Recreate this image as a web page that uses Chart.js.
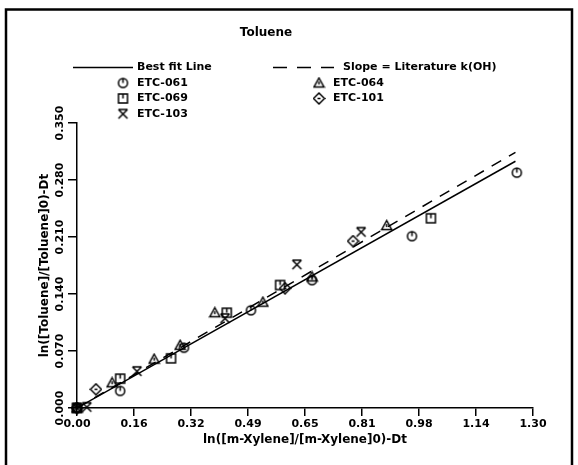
<!DOCTYPE html>
<html>
<head>
<meta charset="utf-8">
<script src="https://cdn.jsdelivr.net/npm/chart.js@4/dist/chart.umd.min.js"></script>
<style>
  html, body { margin: 0; padding: 0; background: #fff; }
  #wrap { width: 578px; height: 465px; }
</style>
</head>
<body>
<div id="wrap"><canvas id="chart"></canvas></div>
<script>
const FONT = '"DejaVu Sans", sans-serif';

// Data
const chartTitle = 'Toluene';
const xTitle = 'ln([m-Xylene]/[m-Xylene]0)-Dt';
const yTitle = 'ln([Toluene]/[Toluene]0)-Dt';

const xTickLabels = ['0.00', '0.16', '0.32', '0.49', '0.65', '0.81', '0.98', '1.14', '1.30'];
const yTickLabels = ['0.000', '0.070', '0.140', '0.210', '0.280', '0.350'];
const xMax = 1.3;
const yMax = 0.35;

const lineNames = ['Best fit Line', 'Slope = Literature k(OH)'];
const seriesNames = ['ETC-061', 'ETC-064', 'ETC-069', 'ETC-101', 'ETC-103'];

const fitX = [0, 1.25];
const fitY = [0, 0.303];
const litY = [0, 0.314];

const etc061X = [0, 0.123, 0.305, 0.496, 0.670, 0.955, 1.254];
const etc061Y = [0, 0.021, 0.074, 0.120, 0.157, 0.211, 0.289];
const etc064X = [0, 0.100, 0.220, 0.294, 0.393, 0.530, 0.670, 0.883];
const etc064Y = [0, 0.031, 0.060, 0.077, 0.117, 0.130, 0.161, 0.224];
const etc069X = [0, 0.123, 0.268, 0.427, 0.579, 1.009];
const etc069Y = [0, 0.036, 0.061, 0.117, 0.151, 0.233];
const etc101X = [0, 0.054, 0.593, 0.787];
const etc101Y = [0, 0.023, 0.147, 0.205];
const etc103X = [0, 0.028, 0.171, 0.422, 0.627, 0.810];
const etc103Y = [0, 0.001, 0.045, 0.110, 0.176, 0.216];

function toPoints(xs, ys) {
  return xs.map((x, i) => ({ x: x, y: ys[i] }));
}

// plot symbols, drawn like the old plotter marks
function makeSymbol(kind) {
  const c = document.createElement('canvas');
  c.width = 13;
  c.height = 13;
  const g = c.getContext('2d');
  g.strokeStyle = '#000';
  g.lineWidth = 1.5;
  g.beginPath();
  if (kind === 'circle') {
    g.arc(6.5, 6.5, 4.5, 0, Math.PI * 2);
    g.moveTo(6.5, 2);
    g.lineTo(6.5, 6.5);
  } else if (kind === 'square') {
    g.rect(2, 2, 9, 9);
    g.moveTo(6.5, 2);
    g.lineTo(6.5, 6.5);
  } else if (kind === 'triangle') {
    g.moveTo(6.5, 1.5);
    g.lineTo(11.5, 10.5);
    g.lineTo(1.5, 10.5);
    g.closePath();
    g.moveTo(6.5, 5);
    g.lineTo(6.5, 8);
  } else if (kind === 'diamond') {
    g.moveTo(6.5, 1);
    g.lineTo(12, 6.5);
    g.lineTo(6.5, 12);
    g.lineTo(1, 6.5);
    g.closePath();
    g.moveTo(5, 6.5);
    g.lineTo(8, 6.5);
  } else if (kind === 'cross') {
    g.moveTo(2, 2);
    g.lineTo(11, 2);
    g.moveTo(2, 2);
    g.lineTo(11, 11);
    g.moveTo(11, 2);
    g.lineTo(2, 11);
  }
  g.stroke();
  return c;
}

const symbols = ['circle', 'triangle', 'square', 'diamond', 'cross'].map(makeSymbol);

function pointSet(label, xs, ys, sym) {
  return {
    label: label,
    data: toPoints(xs, ys),
    pointStyle: sym,
    pointRadius: 6,
    showLine: false,
    clip: false
  };
}

const frameAndText = {
  id: 'frameAndText',
  beforeDraw(chart) {
    const ctx = chart.ctx;
    ctx.save();
    ctx.fillStyle = '#fff';
    ctx.fillRect(0, 0, chart.width, chart.height);
    ctx.strokeStyle = '#000';
    ctx.lineWidth = 2.5;
    ctx.beginPath();
    ctx.moveTo(6, chart.height);
    ctx.lineTo(6, 9.5);
    ctx.lineTo(572, 9.5);
    ctx.lineTo(572, chart.height);
    ctx.stroke();
    ctx.restore();
  },
  afterDraw(chart) {
    const ctx = chart.ctx;
    ctx.save();
    ctx.fillStyle = '#000';
    ctx.strokeStyle = '#000';

    // title
    ctx.font = 'bold 12px ' + FONT;
    ctx.textAlign = 'center';
    ctx.textBaseline = 'middle';
    ctx.fillText(chartTitle, 266, 33);

    // y tick labels, written sideways
    ctx.font = 'bold 11px ' + FONT;
    const ys = chart.scales.y;
    ys.ticks.forEach((t, i) => {
      const py = ys.getPixelForValue(t.value);
      ctx.save();
      ctx.translate(60, py);
      ctx.rotate(-Math.PI / 2);
      ctx.fillText(yTickLabels[i], 0, 0);
      ctx.restore();
    });

    // legend
    ctx.textAlign = 'left';
    ctx.lineWidth = 1.5;
    ctx.beginPath();
    ctx.moveTo(73, 67.5);
    ctx.lineTo(133, 67.5);
    ctx.stroke();
    ctx.fillText(lineNames[0], 137, 67.5);
    ctx.setLineDash([14, 10]);
    ctx.beginPath();
    ctx.moveTo(273, 67.5);
    ctx.lineTo(334, 67.5);
    ctx.stroke();
    ctx.setLineDash([]);
    ctx.fillText(lineNames[1], 343, 67.5);

    const slots = [[123, 83], [319, 83], [123, 98.5], [319, 98.5], [123, 114]];
    seriesNames.forEach((name, i) => {
      const s = slots[i];
      ctx.drawImage(symbols[i], s[0] - 6.5, s[1] - 6.5);
      ctx.fillText(name, s[0] + 14, s[1]);
    });
    ctx.restore();
  }
};

const ctx = document.getElementById('chart').getContext('2d');
const chart = new Chart(ctx, {
  type: 'scatter',
  data: {
    datasets: [
      {
        label: lineNames[0],
        data: toPoints(fitX, fitY),
        showLine: true,
        borderColor: '#000',
        borderWidth: 1.5,
        pointRadius: 0
      },
      {
        label: lineNames[1],
        data: toPoints(fitX, litY),
        showLine: true,
        borderColor: '#000',
        borderWidth: 1.5,
        borderDash: [11, 9],
        pointRadius: 0
      },
      pointSet(seriesNames[0], etc061X, etc061Y, symbols[0]),
      pointSet(seriesNames[1], etc064X, etc064Y, symbols[1]),
      pointSet(seriesNames[2], etc069X, etc069Y, symbols[2]),
      pointSet(seriesNames[3], etc101X, etc101Y, symbols[3]),
      pointSet(seriesNames[4], etc103X, etc103Y, symbols[4])
    ]
  },
  options: {
    responsive: true,
    maintainAspectRatio: false,
    animation: false,
    layout: { padding: { top: 123, right: 45, left: 0, bottom: 0 } },
    plugins: {
      legend: { display: false },
      tooltip: { enabled: false }
    },
    scales: {
      x: {
        type: 'linear',
        min: 0,
        max: xMax,
        afterBuildTicks: (scale) => {
          scale.ticks = xTickLabels.map((l, i) => ({ value: i * xMax / (xTickLabels.length - 1) }));
        },
        afterFit: (scale) => { scale.height = 57; },
        ticks: {
          padding: 2,
          color: '#000',
          font: { family: FONT, size: 11, weight: 'bold' },
          maxRotation: 0,
          callback: (v, i) => xTickLabels[i]
        },
        grid: { drawOnChartArea: false, tickLength: 8, color: '#000', lineWidth: 1.5 },
        border: { display: true, color: '#000', width: 1.5 },
        title: {
          display: true,
          text: xTitle,
          color: '#000',
          font: { family: FONT, size: 12, weight: 'bold' },
          padding: { top: 0, bottom: 18 }
        }
      },
      y: {
        type: 'linear',
        min: 0,
        max: yMax,
        afterBuildTicks: (scale) => {
          scale.ticks = yTickLabels.map((l, i) => ({ value: i * yMax / (yTickLabels.length - 1) }));
        },
        afterFit: (scale) => { scale.width = 77; },
        ticks: { display: false },
        grid: { drawOnChartArea: false, tickLength: 9, color: '#000', lineWidth: 1.5 },
        border: { display: true, color: '#000', width: 1.5 },
        title: {
          display: true,
          text: yTitle,
          color: '#000',
          font: { family: FONT, size: 12, weight: 'bold' },
          padding: { top: 38, bottom: 0 }
        }
      }
    }
  },
  plugins: [frameAndText]
});
</script>
</body>
</html>
